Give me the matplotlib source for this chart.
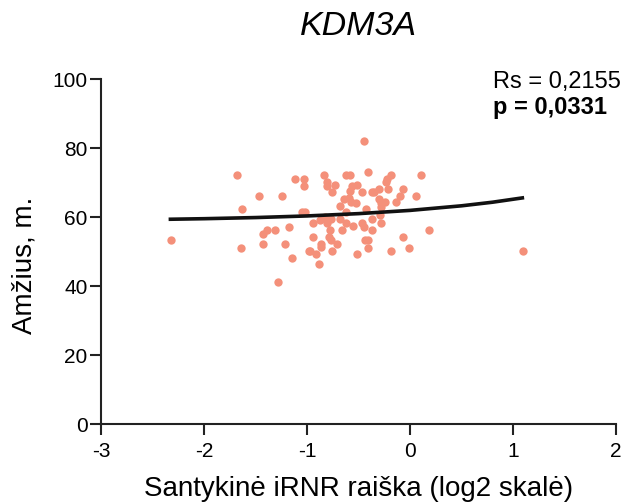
import numpy as np
import matplotlib
matplotlib.use("Agg")
import matplotlib.pyplot as plt

# Data
expr = [-1.687, -1.121, -1.031, -1.031, -1.471, -1.248, -1.639, -1.056, -1.024, -2.322,
        -1.180, -1.396, -1.435, -1.316, -1.643, -1.432, -1.216, -1.148, -1.286, -0.983,
        -0.451, -0.833, -0.619, -0.587, -0.410, -0.808, -0.808, -0.733, -0.759, -0.183,
        -0.225, -0.238, 0.102, -0.561, -0.517, -0.587, -0.471, -0.374, -0.354, -0.303,
        -0.216, -0.070, -0.102, 0.060, -0.643, -0.594, -0.571, -0.529, -0.303, -0.280,
        -0.245, -0.134, -0.684, -0.432, -0.283, -0.619, -0.830, -0.765, -0.684, -0.944,
        -0.879, -0.804, -0.619, -0.555, -0.471, -0.451, -0.374, -0.283, -0.374, -0.658,
        -0.782, 0.183, -0.944, -0.788, -0.765, -0.711, -0.862, -0.862, -0.435, -0.410,
        -0.410, -0.070, -0.015, -0.969, -0.911, -0.759, -0.513, -0.183, -0.888, 1.095,
        -0.289]
age = [72.2, 71.1, 71.1, 69.1, 66.2, 66.2, 62.3, 61.4, 61.4, 53.3,
       57.2, 56.3, 55.2, 56.3, 51.2, 52.2, 52.2, 48.2, 41.3, 50.3,
       82.1, 72.2, 72.2, 72.2, 73.2, 70.2, 69.1, 69.3, 67.3, 72.2,
       71.1, 70.2, 72.2, 69.1, 69.3, 67.7, 67.3, 67.2, 67.3, 68.2,
       68.2, 68.2, 66.1, 66.2, 65.3, 65.7, 64.5, 64.0, 65.3, 64.2,
       64.4, 64.3, 63.2, 62.4, 63.0, 61.4, 60.1, 59.5, 59.4, 58.2,
       59.2, 58.4, 58.4, 57.4, 58.4, 57.2, 59.4, 58.4, 56.3, 56.3,
       56.3, 56.3, 54.3, 54.3, 53.4, 52.2, 52.2, 51.4, 53.4, 53.4,
       51.2, 54.3, 51.2, 50.3, 49.3, 50.3, 49.2, 50.3, 46.3, 50.3,
       60.6]

# Fitted curve, points
fit_x = [-2.33, -2.0, -1.5, -1.0, -0.5, 0.0, 0.5, 0.8, 1.09]
fit_y = [59.40, 59.56, 59.89, 60.36, 61.03, 61.97, 63.30, 64.34, 65.59]

x_ticks = [-3, -2, -1, 0, 1, 2]
y_ticks = [0, 20, 40, 60, 80, 100]

plt.rcParams['font.family'] = ['Liberation Sans', 'DejaVu Sans']

fig = plt.figure(figsize=(6.26, 5.04), dpi=100)
ax = fig.add_axes([0.1621, 0.1587, 0.8219, 0.684])

ax.scatter(expr, age, s=36, color='#F4907A', linewidths=0, zorder=2)
ax.plot(fit_x, fit_y, color='#111111', linewidth=2.6, zorder=3)

ax.set_xlim(-3, 2)
ax.set_ylim(0, 100)
ax.set_xticks(x_ticks)
ax.set_yticks(y_ticks)
ax.set_xticklabels([str(t) for t in x_ticks])

for side in ['top', 'right']:
    ax.spines[side].set_visible(False)
for side in ['left', 'bottom']:
    ax.spines[side].set_linewidth(1.5)
    ax.spines[side].set_color('#222222')
ax.tick_params(axis='both', length=8, width=1.5, color='#222222', labelsize=15)
ax.tick_params(axis='x', pad=5)
ax.tick_params(axis='y', pad=2)

ax.set_xlabel('Santykinė iRNR raiška (log2 skalė)', fontsize=20, labelpad=11)
ax.set_ylabel('Amžius, m.', fontsize=20)
ax.yaxis.set_label_coords(-0.125, 0.46)
ax.set_title('KDM3A', fontsize=24.5, style='italic', pad=32)

ax.text(0.761, 0.993, 'Rs = 0,2155', transform=ax.transAxes, fontsize=17,
        ha='left', va='center')
ax.text(0.761, 0.917, 'p = 0,0331', transform=ax.transAxes, fontsize=17,
        fontweight='bold', ha='left', va='center')

fig.savefig('out.png', dpi=100)
